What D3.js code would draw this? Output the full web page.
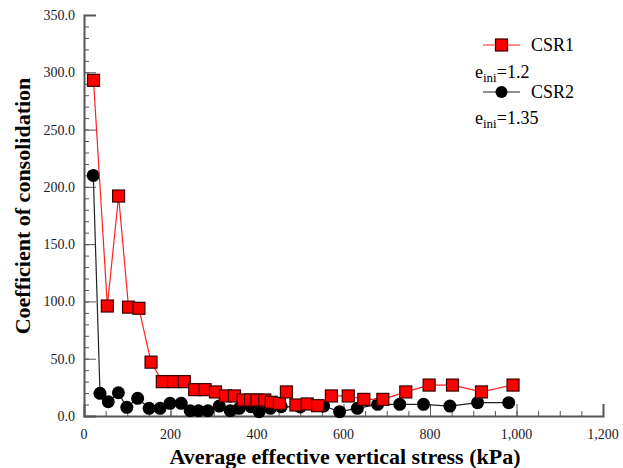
<!DOCTYPE html>
<html>
<head>
<meta charset="utf-8">
<script src="https://cdn.jsdelivr.net/npm/d3@7"></script>
<style>
  body { margin: 0; background: #fff; }
</style>
</head>
<body>
<div id="chart"></div>
<script>
// CSR1 (e_ini = 1.2)
const csr1Stress = [22, 54, 80, 103, 127, 155, 181, 207, 232, 256, 280, 304, 327, 348, 368, 385, 400, 418, 433, 452, 468, 490, 516, 540, 572, 611, 647, 691, 744, 798, 852, 919, 992];
const csr1Cv = [293, 96, 192, 95, 94, 47, 30, 30, 30, 23, 23, 21, 17.5, 17.5, 14, 14, 14, 14, 12, 11, 21, 9.6, 10.5, 9, 17.5, 17.5, 14.5, 14.5, 21, 27, 27, 21, 27];
// CSR2 (e_ini = 1.35)
const csr2Stress = [21.5, 37, 56, 79.5, 99, 124, 150.6, 176, 199, 224.7, 245.5, 264.8, 286.5, 312.7, 338, 359, 386, 405, 431, 456, 500, 554, 591, 632, 679, 730, 785, 846, 910, 982];
const csr2Cv = [210, 19.8, 12.5, 20.3, 7.6, 15.4, 6.7, 6.7, 11.1, 11.1, 4.6, 4.6, 4.6, 8.7, 4.6, 6.7, 8.1, 3.8, 6.7, 8.1, 7.9, 8.7, 3.8, 6.7, 10.2, 10.2, 10.2, 8.7, 11.6, 11.6];

const xTicks = [0, 200, 400, 600, 800, 1000, 1200];
const yTicks = [0, 50, 100, 150, 200, 250, 300, 350];

const width = 623, height = 468;
const margin = { top: 15, right: 20, bottom: 52, left: 84 };
const w = width - margin.left - margin.right;
const h = height - margin.top - margin.bottom;
const serif = "'Liberation Serif', 'Times New Roman', Times, serif";

const svg = d3.select("#chart")
    .append("svg")
    .attr("width", width)
    .attr("height", height)
    .style("font-family", serif)
    .append("g")
    .attr("transform", "translate(" + margin.left + "," + margin.top + ")");

const x = d3.scaleLinear().domain([0, 1200]).range([0, w]);
const y = d3.scaleLinear().domain([0, 350]).range([h, 0]);

const axisColor = "#555";

// minor ticks first, then majors on top
svg.append("g")
    .attr("transform", "translate(0," + h + ")")
    .call(d3.axisTop(x).tickValues(d3.range(0, 1201, 50)).tickSize(5).tickFormat(""))
    .call(g => g.select(".domain").remove())
    .call(g => g.selectAll("line").attr("stroke", axisColor));
svg.append("g")
    .call(d3.axisRight(y).tickValues(d3.range(0, 351, 10)).tickSize(5).tickFormat(""))
    .call(g => g.select(".domain").remove())
    .call(g => g.selectAll("line").attr("stroke", axisColor));

// x axis
svg.append("g")
    .attr("transform", "translate(0," + h + ")")
    .call(d3.axisTop(x).tickValues(xTicks).tickSize(12).tickFormat(""))
    .call(g => g.select(".domain").attr("stroke", axisColor).attr("stroke-width", 2))
    .call(g => g.selectAll("line").attr("stroke", axisColor));
svg.append("g")
    .selectAll("text")
    .data(xTicks)
    .join("text")
    .attr("x", d => x(d))
    .attr("y", h + 23)
    .attr("text-anchor", "middle")
    .style("font-family", serif)
    .style("font-size", "14px")
    .attr("fill", "#1a1a2a")
    .text(d => d3.format(",")(d));

// y axis
svg.append("g")
    .call(d3.axisRight(y).tickValues(yTicks).tickSize(12).tickFormat(""))
    .call(g => g.select(".domain").attr("stroke", axisColor).attr("stroke-width", 2))
    .call(g => g.selectAll("line").attr("stroke", axisColor));
svg.append("g")
    .selectAll("text")
    .data(yTicks)
    .join("text")
    .attr("x", -9)
    .attr("y", d => y(d) + 5)
    .attr("text-anchor", "end")
    .style("font-family", serif)
    .style("font-size", "14px")
    .attr("fill", "#1a1a2a")
    .text(d => d3.format(".1f")(d));

// axis titles
svg.append("text")
    .attr("x", 261)
    .attr("y", h + 48)
    .attr("text-anchor", "middle")
    .style("font-family", serif)
    .style("font-size", "22px")
    .style("font-weight", "bold")
    .text("Average effective vertical stress (kPa)");
svg.append("text")
    .attr("transform", "rotate(-90)")
    .attr("x", -191)
    .attr("y", -margin.left + 30)
    .attr("text-anchor", "middle")
    .style("font-family", serif)
    .style("font-size", "22px")
    .style("font-weight", "bold")
    .text("Coefficient of consolidation");

const line = d3.line().x(d => x(d[0])).y(d => y(d[1]));
const csr1 = csr1Stress.map((s, i) => [s, csr1Cv[i]]);
const csr2 = csr2Stress.map((s, i) => [s, csr2Cv[i]]);

// CSR2 (black)
svg.append("path")
    .datum(csr2)
    .attr("fill", "none")
    .attr("stroke", "#222")
    .attr("stroke-width", 1.2)
    .attr("d", line);
svg.selectAll("circle.csr2")
    .data(csr2)
    .join("circle")
    .classed("csr2", true)
    .attr("cx", d => x(d[0]))
    .attr("cy", d => y(d[1]))
    .attr("r", 6.5)
    .attr("fill", "#000");

// CSR1 (red)
svg.append("path")
    .datum(csr1)
    .attr("fill", "none")
    .attr("stroke", "#ff2020")
    .attr("stroke-width", 1.2)
    .attr("d", line);
const sq = 12;
svg.selectAll("rect.csr1")
    .data(csr1)
    .join("rect")
    .classed("csr1", true)
    .attr("x", d => x(d[0]) - sq / 2)
    .attr("y", d => y(d[1]) - sq / 2)
    .attr("width", sq)
    .attr("height", sq)
    .attr("fill", "#ff0000")
    .attr("stroke", "#3a0000")
    .attr("stroke-width", 1.2);

// legend
const lg = svg.append("g")
    .style("font-family", serif)
    .attr("transform", "translate(" + (483 - margin.left) + "," + (45 - margin.top) + ")");
lg.append("line").attr("x1", 0).attr("x2", 37).attr("y1", 0).attr("y2", 0)
    .attr("stroke", "#ff2020").attr("stroke-width", 1.2);
lg.append("rect").attr("x", 18.5 - sq / 2).attr("y", -sq / 2).attr("width", sq).attr("height", sq)
    .attr("fill", "#ff0000").attr("stroke", "#3a0000").attr("stroke-width", 1.2);
lg.append("text").attr("x", 48).attr("y", 6).style("font-size", "18px").text("CSR1");
const e1 = lg.append("text").attr("x", -8).attr("y", 33).style("font-size", "18px");
e1.append("tspan").text("e");
e1.append("tspan").attr("dy", 4).style("font-size", "13px").text("ini");
e1.append("tspan").attr("dy", -4).text("=1.2");

lg.append("line").attr("x1", 0).attr("x2", 37).attr("y1", 47).attr("y2", 47)
    .attr("stroke", "#222").attr("stroke-width", 1.2);
lg.append("circle").attr("cx", 18.5).attr("cy", 47).attr("r", 6).attr("fill", "#000");
lg.append("text").attr("x", 48).attr("y", 53).style("font-size", "18px").text("CSR2");
const e2 = lg.append("text").attr("x", -8).attr("y", 79).style("font-size", "18px");
e2.append("tspan").text("e");
e2.append("tspan").attr("dy", 4).style("font-size", "13px").text("ini");
e2.append("tspan").attr("dy", -4).text("=1.35");
</script>
</body>
</html>
